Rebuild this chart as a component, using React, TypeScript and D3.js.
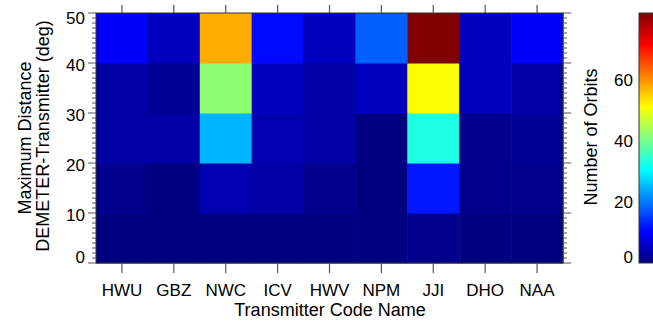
import React from "react";
import * as d3 from "d3";

// Transmitters along the x axis
const transmitters = ["HWU", "GBZ", "NWC", "ICV", "HWV", "NPM", "JJI", "DHO", "NAA"];
// Distance bin lower edges (deg); each bin spans 10 deg
const distanceBins = [0, 10, 20, 30, 40];
// Number of orbits per distance bin (rows, bottom to top), per transmitter
const orbits0to10 = [0, 0, 0, 0, 0, 0, 1, 0, 0];
const orbits10to20 = [1, 0, 4, 3, 1, 0, 12, 1, 1];
const orbits20to30 = [3, 3, 25, 4, 3, 0, 33, 1, 2];
const orbits30to40 = [3, 2, 42, 5, 3, 5, 51, 5, 3];
const orbits40to50 = [10, 5, 58, 11, 5, 18, 82, 5, 10];
const orbitRows = [orbits0to10, orbits10to20, orbits20to30, orbits30to40, orbits40to50];

const yTicks = [0, 10, 20, 30, 40, 50];
const colorTicks = [0, 20, 40, 60];
const colorMax = 82;

// Classic "jet" colormap
function jet(t: number): string {
  const c = (v: number) => Math.max(0, Math.min(1, v));
  const r = c(1.5 - Math.abs(4 * t - 3));
  const g = c(1.5 - Math.abs(4 * t - 2));
  const b = c(1.5 - Math.abs(4 * t - 1));
  return d3.rgb(r * 255, g * 255, b * 255).formatHex();
}

const FONT = "'Liberation Sans', Arial, Helvetica, sans-serif";

export default function App() {
  const W = 653;
  const H = 322;
  const plot = { left: 96, right: 563, top: 13, bottom: 263 };
  const cbar = { left: 639, right: 662, top: 13, bottom: 263 };

  const x = d3
    .scaleBand<string>()
    .domain(transmitters)
    .range([plot.left, plot.right])
    .paddingInner(0)
    .paddingOuter(0);
  const y = d3.scaleLinear().domain([0, 50]).range([plot.bottom, plot.top]);
  const color = d3.scaleSequential((t: number) => jet(t)).domain([0, colorMax]);
  const cy = d3.scaleLinear().domain([0, colorMax]).range([cbar.bottom, cbar.top]);

  const cells: { key: string; x: number; y: number; w: number; h: number; fill: string }[] = [];
  orbitRows.forEach((row, ri) => {
    const lo = distanceBins[ri];
    row.forEach((v, ci) => {
      const name = transmitters[ci];
      const x0 = x(name)!;
      cells.push({
        key: `${name}-${lo}`,
        x: x0,
        y: y(lo + 10),
        w: x.bandwidth(),
        h: y(lo) - y(lo + 10),
        fill: color(v),
      });
    });
  });

  const minorTicks = d3.range(0, 51, 1);
  const gradStops = d3.range(0, 1.0001, 1 / 64);

  const tickColor = "#555";
  const labelY = (v: number) => Math.max(18, Math.min(257, y(v) + 2));
  const cLabelY = (v: number) => Math.max(18, Math.min(257, cy(v)));

  return (
    <svg width={W} height={H} style={{ position: "absolute", left: 0, top: 0, background: "#fff" }}>
      <defs>
        <linearGradient id="jetbar" x1="0" y1="1" x2="0" y2="0">
          {gradStops.map((t) => (
            <stop key={t} offset={t} stopColor={jet(t)} />
          ))}
        </linearGradient>
      </defs>

      {cells.map((c) => (
        <rect key={c.key} x={c.x} y={c.y} width={c.w + 0.5} height={c.h + 0.5} fill={c.fill} />
      ))}
      <rect
        x={plot.left}
        y={plot.top}
        width={plot.right - plot.left}
        height={plot.bottom - plot.top}
        fill="none"
        stroke="#333"
        strokeWidth={1}
      />

      {/* y-axis ticks, left and right */}
      {minorTicks.map((v) => {
        const major = v % 10 === 0;
        const len = major ? 8 : 4;
        const yy = y(v);
        return (
          <g key={`yt${v}`} stroke={tickColor} strokeWidth={1}>
            <line x1={plot.left - len} x2={plot.left} y1={yy} y2={yy} />
            <line x1={plot.right} x2={plot.right + len} y1={yy} y2={yy} />
          </g>
        );
      })}

      {/* x-axis ticks, top and bottom, at column centres */}
      {transmitters.map((t) => {
        const cx = x(t)! + x.bandwidth() / 2;
        return (
          <g key={`xt${t}`} stroke={tickColor} strokeWidth={1.2}>
            <line x1={cx} x2={cx} y1={plot.bottom} y2={plot.bottom + 10} />
            <line x1={cx} x2={cx} y1={plot.top - 8} y2={plot.top} />
          </g>
        );
      })}

      {/* tick labels */}
      <g fontFamily={FONT} fontSize={17} fill="#000">
        {yTicks.map((v) => (
          <text key={`yl${v}`} x={85} y={labelY(v)} textAnchor="end" dy="0.35em">
            {v}
          </text>
        ))}
        {transmitters.map((t) => (
          <text key={`xl${t}`} x={x(t)! + x.bandwidth() / 2} y={296} textAnchor="middle">
            {t}
          </text>
        ))}
      </g>

      {/* axis titles */}
      <g fontFamily={FONT} fontSize={18} fill="#000">
        <text x={330} y={316} textAnchor="middle">
          Transmitter Code Name
        </text>
        <text transform={`translate(31, 138) rotate(-90)`} textAnchor="middle">
          Maximum Distance
        </text>
        <text transform={`translate(49, 136) rotate(-90)`} textAnchor="middle">
          DEMETER-Transmitter (deg)
        </text>
      </g>

      {/* colour bar */}
      <rect
        x={cbar.left}
        y={cbar.top}
        width={cbar.right - cbar.left}
        height={cbar.bottom - cbar.top}
        fill="url(#jetbar)"
        stroke="#333"
        strokeWidth={1}
      />
      <g fontFamily={FONT} fontSize={17} fill="#000">
        {colorTicks.map((v) => (
          <text key={`cl${v}`} x={633} y={cLabelY(v)} textAnchor="end" dy="0.35em">
            {v}
          </text>
        ))}
      </g>
      <text
        fontFamily={FONT}
        fontSize={18}
        fill="#000"
        transform={`translate(597, 137) rotate(-90)`}
        textAnchor="middle"
      >
        Number of Orbits
      </text>
    </svg>
  );
}
